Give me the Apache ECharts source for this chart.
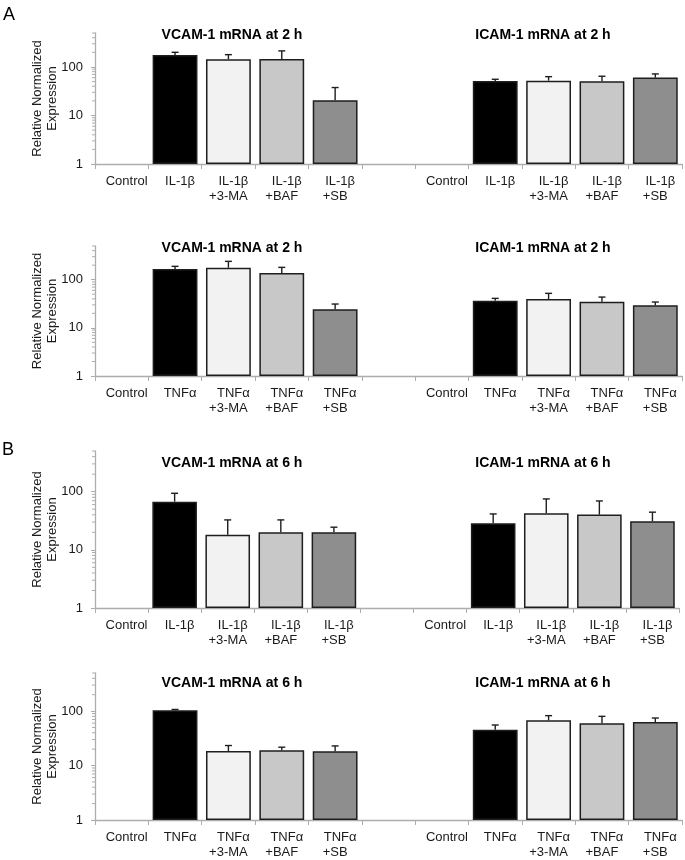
<!DOCTYPE html>
<html><head><meta charset="utf-8">
<script src="https://cdn.jsdelivr.net/npm/echarts@6/dist/echarts.min.js"></script>
<style>html,body{margin:0;padding:0;background:#fff}#c{width:685px;height:860px}</style>
</head><body><div id="c"></div>
<script>
// ---- data ----
const catsIL = ['Control', 'IL-1β', 'IL-1β\n+3-MA', 'IL-1β\n+BAF', 'IL-1β\n+SB'];
const catsTNF = ['Control', 'TNFα', 'TNFα\n+3-MA', 'TNFα\n+BAF', 'TNFα\n+SB'];
const yTickValues = [1, 10, 100];
const yMinorValues = [2,3,4,5,6,7,8,9,20,30,40,50,60,70,80,90,200,300,400,500];
const yMax = 500;

const titleVcam2h = 'VCAM-1 mRNA at 2 h';
const titleIcam2h = 'ICAM-1 mRNA at 2 h';
const titleVcam6h = 'VCAM-1 mRNA at 6 h';
const titleIcam6h = 'ICAM-1 mRNA at 6 h';

// A: 2 h
const vcamIL2h = [1, 177, 144, 146, 20.6];
const vcamIL2hErr = [0, 23, 35, 68, 17];
const icamIL2h = [1, 51.4, 52.2, 50.7, 60.2];
const icamIL2hErr = [0, 4.3, 10.8, 13.6, 11.5];
const vcamTNF2h = [1, 166, 177, 137, 24.2];
const vcamTNF2hErr = [0, 23, 63, 43, 7];
const icamTNF2h = [1, 36.7, 39.6, 34.9, 29.3];
const icamTNF2hErr = [0, 4.2, 12.4, 8.6, 5];
// B: 6 h
const vcamIL6h = [1, 67.3, 18.1, 20.1, 20.1];
const vcamIL6hErr = [0, 26.5, 14.6, 12.6, 4.4];
const icamIL6h = [1, 28.7, 42.6, 40.3, 31];
const icamIL6hErr = [0, 12.7, 32.4, 28.9, 13.4];
const vcamTNF6h = [1, 103, 18.5, 19.1, 18.3];
const vcamTNF6hErr = [0, 4, 4.8, 2.6, 4.6];
const icamTNF6h = [1, 45.6, 67.6, 59.6, 62.9];
const icamTNF6hErr = [0, 9.9, 14.8, 20.4, 11.6];

// ---- styling / layout ----
const barColors = ['#ffffff', '#000000', '#f2f2f2', '#c8c8c8', '#8e8e8e'];
const FONT = 'Liberation Sans, Arial, sans-serif';
const TXT = '#1a1a1a';
const AX = '#adadad';

const rows = [
  {top: 33, height: 131, right: 3, cats: catsIL, L: vcamIL2h, LE: vcamIL2hErr, R: icamIL2h, RE: icamIL2hErr, tl: titleVcam2h, tr: titleIcam2h, ty: 35},
  {top: 246, height: 130, right: 3, cats: catsTNF, L: vcamTNF2h, LE: vcamTNF2hErr, R: icamTNF2h, RE: icamTNF2hErr, tl: titleVcam2h, tr: titleIcam2h, ty: 248},
  {top: 451, height: 157, right: 6, cats: catsIL, L: vcamIL6h, LE: vcamIL6hErr, R: icamIL6h, RE: icamIL6hErr, tl: titleVcam6h, tr: titleIcam6h, ty: 463},
  {top: 673, height: 147, right: 3, cats: catsTNF, L: vcamTNF6h, LE: vcamTNF6hErr, R: icamTNF6h, RE: icamTNF6hErr, tl: titleVcam6h, tr: titleIcam6h, ty: 683}
];

function labelFmt(v) {
  if (!v) return '';
  const parts = v.split('\n');
  if (parts.length === 1) return '{a|' + parts[0] + '}';
  return '{a|' + parts[0] + '}\n{b|' + parts[1] + '}';
}

function errRender(params, api) {
  const i = api.value(0), v = api.value(1), e = api.value(2);
  if (!(e > 0)) return;
  const p0 = api.coord([i, v]);
  const p1 = api.coord([i, v + e]);
  const cap = 3.5;
  const st = {stroke: '#1e1e1e', lineWidth: 1.4};
  return {type: 'group', children: [
    {type: 'line', shape: {x1: p0[0], y1: p0[1], x2: p1[0], y2: p1[1]}, style: st},
    {type: 'line', shape: {x1: p1[0] - cap, y1: p1[1], x2: p1[0] + cap, y2: p1[1]}, style: st}
  ]};
}

function minorRender(params, api) {
  const p = api.coord([0, api.value(1)]);
  const bw = api.size([1, 0])[0];
  const x = p[0] - bw / 2;
  return {type: 'line', shape: {x1: x - 3, y1: p[1], x2: x, y2: p[1]}, style: {stroke: AX, lineWidth: 1}};
}

const grid = [], xAxis = [], yAxis = [], series = [], graphic = [];
rows.forEach((r, k) => {
  grid.push({left: 95, right: r.right, top: r.top, height: r.height, containLabel: false});
  const cats = r.cats.concat(['']).concat(r.cats);
  xAxis.push({
    type: 'category', gridIndex: k, data: cats,
    axisLine: {lineStyle: {color: AX, width: 1.3}},
    axisTick: {show: true, length: 5, lineStyle: {color: AX, width: 1}},
    axisLabel: {
      interval: 0, margin: 10, formatter: labelFmt, color: TXT,
      rich: {
        a: {fontFamily: FONT, fontSize: 13, color: TXT, lineHeight: 15, padding: [0, 0, 0, 10]},
        b: {fontFamily: FONT, fontSize: 13, color: TXT, lineHeight: 15}
      }
    }
  });
  yAxis.push({
    type: 'log', logBase: 10, gridIndex: k, min: 1, max: yMax,
    name: 'Relative Normalized\nExpression', nameLocation: 'middle', nameGap: 35, nameRotate: 90,
    nameMoveOverlap: false,
    nameTextStyle: {fontFamily: FONT, fontSize: 13, color: TXT, lineHeight: 15},
    axisLine: {show: true, lineStyle: {color: AX, width: 1.3}},
    axisTick: {show: true, length: 4, lineStyle: {color: AX, width: 1}},
    splitLine: {show: false},
    axisLabel: {
      showMaxLabel: false, margin: 12, fontFamily: FONT, fontSize: 13, color: TXT,
      formatter: (v) => yTickValues.indexOf(Math.round(v)) >= 0 ? String(Math.round(v)) : ''
    }
  });
  const vals = r.L.concat([null]).concat(r.R);
  const errs = r.LE.concat([0]).concat(r.RE);
  series.push({
    type: 'bar', xAxisIndex: k, yAxisIndex: k, barCategoryGap: '16%',
    data: vals.map((v, i) => {
      const ci = i % 6;
      if (v === null || v <= 1) return {value: '-'};
      return {value: v, itemStyle: {color: barColors[ci], borderColor: '#1e1e1e', borderWidth: 1.5}};
    }),
    z: 2
  });
  series.push({
    type: 'custom', xAxisIndex: k, yAxisIndex: k, renderItem: errRender, z: 3, clip: false,
    data: vals.map((v, i) => [i, v === null ? 1 : v, errs[i]])
  });
  series.push({
    type: 'custom', xAxisIndex: k, yAxisIndex: k, renderItem: minorRender, z: 3, clip: false,
    data: yMinorValues.map(v => [0, v])
  });
  graphic.push({type: 'text', x: 232, y: r.ty, style: {text: r.tl, font: 'bold 14px ' + FONT, fill: '#000', align: 'center', verticalAlign: 'middle'}});
  graphic.push({type: 'text', x: 543, y: r.ty, style: {text: r.tr, font: 'bold 14px ' + FONT, fill: '#000', align: 'center', verticalAlign: 'middle'}});
});
graphic.push({type: 'text', x: 3, y: 6, style: {text: 'A', font: '18px ' + FONT, fill: '#000'}});
graphic.push({type: 'text', x: 2, y: 441, style: {text: 'B', font: '18px ' + FONT, fill: '#000'}});

const chart = echarts.init(document.getElementById('c'), null, {renderer: 'canvas'});
chart.setOption({animation: false, backgroundColor: '#fff', grid, xAxis, yAxis, series, graphic});
</script></body></html>
